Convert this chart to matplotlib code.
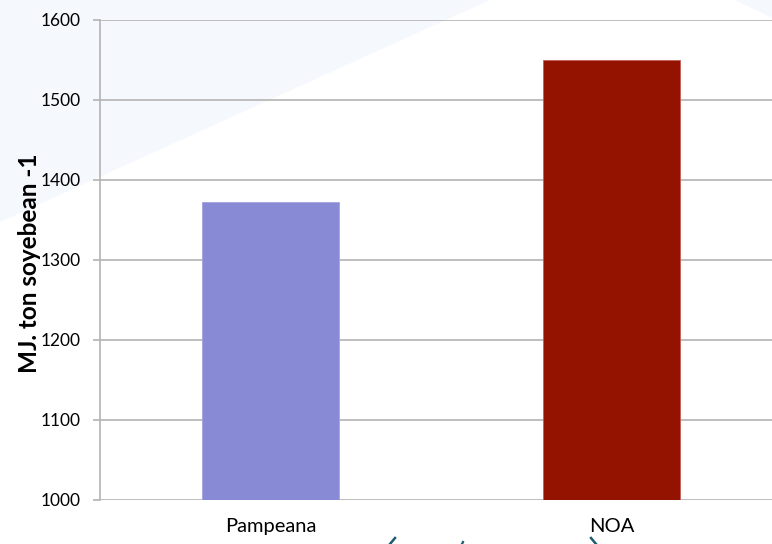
import matplotlib
matplotlib.use("Agg")
import matplotlib.pyplot as plt
from matplotlib.patches import Polygon

categories = ["Pampeana", "NOA"]
values = [1373, 1550]
bar_colors = ["#898ad6", "#931200"]
y_ticks = [1000, 1100, 1200, 1300, 1400, 1500, 1600]
y_label = "MJ. ton soyebean -1"

W, H = 772, 544
fig = plt.figure(figsize=(W / 100, H / 100), dpi=100)
fig.patch.set_facecolor("white")

# faint slide decorations behind the chart
deco = "#f5f8fd"
fig.patches.append(Polygon([(0, 1), (490 / W, 1), (0, 1 - 222 / H)],
                           closed=True, transform=fig.transFigure,
                           facecolor=deco, edgecolor="none", zorder=-5))
fig.patches.append(Polygon([(735 / W, 1), (1, 1), (1, 1 - 18 / H)],
                           closed=True, transform=fig.transFigure,
                           facecolor=deco, edgecolor="none", zorder=-5))

left, right = 100 / W, 782 / W
bottom, top = 1 - 500 / H, 1 - 20 / H
ax = fig.add_axes([left, bottom, right - left, top - bottom])
ax.set_facecolor("none")

x = list(range(len(categories)))
ax.bar(x, values, width=0.4, color=bar_colors, zorder=3,
       edgecolor=["#a3a4e0", "#c0605a"], linewidth=0.6)

ax.set_xlim(-0.5, 1.5)
ax.set_ylim(y_ticks[0], y_ticks[-1])
ax.set_yticks(y_ticks)
ax.set_xticks(x)
ax.set_xticklabels(categories)

grid_c = "#b3b3b3"
ax.yaxis.grid(True, color=grid_c, linewidth=1.2, zorder=1)
ax.set_axisbelow(True)
for side in ["top", "right", "bottom"]:
    ax.spines[side].set_visible(False)
ax.spines["left"].set_color(grid_c)
ax.spines["left"].set_linewidth(1.2)

ax.tick_params(axis="y", length=5, width=1.2, color=grid_c, pad=9,
               labelsize=12.5, labelcolor="black")
ax.tick_params(axis="x", length=0, pad=13, labelsize=14.5, labelcolor="black")
for lbl in ax.get_yticklabels() + ax.get_xticklabels():
    lbl.set_fontfamily("Lato")

fig.text(30 / W, 1 - 263 / H, y_label, rotation=90, ha="center", va="center",
         fontsize=17.5, fontweight="bold", family="Lato", color="black")

# small teal marks peeking in at the lower edge
teal = "#1f5c70"
fig.add_artist(plt.Line2D([390 / W, 395 / W], [1 - 544 / H, 1 - 538 / H],
                          color=teal, linewidth=1.8, transform=fig.transFigure))
fig.add_artist(plt.Line2D([591 / W, 596 / W], [1 - 538 / H, 1 - 544 / H],
                          color=teal, linewidth=1.8, transform=fig.transFigure))
fig.add_artist(plt.Line2D([462 / W, 463 / W], [1 - 544 / H, 1 - 542 / H],
                          color=teal, linewidth=1.6, transform=fig.transFigure))

fig.savefig("out.png", dpi=100)
